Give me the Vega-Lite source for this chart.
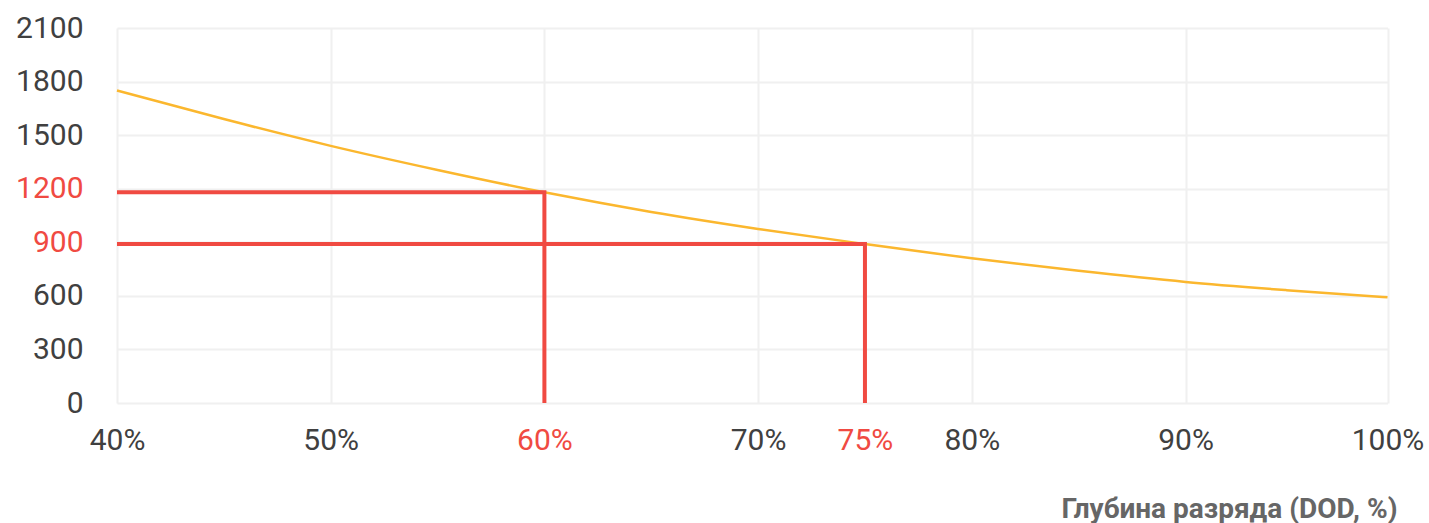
{
  "$schema": "https://vega.github.io/schema/vega-lite/v6.json",
  "autosize": {"type": "none"},
  "width": 1271,
  "height": 375,
  "padding": {"left": 117, "top": 28, "right": 41, "bottom": 120},
  "background": "#ffffff",
  "config": {
    "view": {"stroke": null},
    "font": "Roboto",
    "axis": {
      "grid": true,
      "gridColor": "#f0f0f0",
      "gridWidth": 2,
      "domain": false,
      "ticks": false,
      "tickSize": 0,
      "labelFont": "Roboto",
      "labelFontSize": 30,
      "labelColor": "#404040",
      "labelFlush": false,
      "labelBound": false,
      "labelOverlap": false
    }
  },
  "datasets": {
    "curve": [
      {"dod": 40, "cycles": 1750},
      {"dod": 45, "cycles": 1590},
      {"dod": 50, "cycles": 1440},
      {"dod": 55, "cycles": 1305},
      {"dod": 60, "cycles": 1180},
      {"dod": 65, "cycles": 1070},
      {"dod": 70, "cycles": 975},
      {"dod": 75, "cycles": 890},
      {"dod": 80, "cycles": 810},
      {"dod": 85, "cycles": 740},
      {"dod": 90, "cycles": 678},
      {"dod": 95, "cycles": 632},
      {"dod": 100, "cycles": 592}
    ],
    "marks": [
      {"path": "a", "step": 1, "dod": 40, "cycles": 1180},
      {"path": "a", "step": 2, "dod": 60, "cycles": 1180},
      {"path": "a", "step": 3, "dod": 60, "cycles": 0},
      {"path": "b", "step": 1, "dod": 40, "cycles": 890},
      {"path": "b", "step": 2, "dod": 75, "cycles": 890},
      {"path": "b", "step": 3, "dod": 75, "cycles": 0}
    ]
  },
  "layer": [
    {
      "data": {"name": "curve"},
      "mark": {"type": "line", "color": "#fbb72e", "strokeWidth": 2.5, "interpolate": "monotone"},
      "encoding": {
        "x": {
          "field": "dod",
          "type": "quantitative",
          "scale": {"domain": [40, 90, 100], "range": [0, 1068.5, 1270.5], "nice": false, "zero": false},
          "axis": {
            "values": [40, 50, 60, 70, 75, 80, 90, 100],
            "labelExpr": "datum.value + '%'",
            "labelPadding": 22,
            "labelColor": {"condition": {"test": "datum.value == 60 || datum.value == 75", "value": "#f04a42"}, "value": "#404040"},
            "gridOpacity": {"condition": {"test": "datum.value == 75", "value": 0}, "value": 1},
            "title": "Глубина разряда (DOD, %)",
            "titleFont": "Roboto",
            "titleFontSize": 28,
            "titleFontWeight": "bold",
            "titleColor": "#666666",
            "titleAnchor": "end",
            "titleAlign": "right",
            "titleBaseline": "alphabetic",
            "titleX": 1280,
            "titleY": 114
          }
        },
        "y": {
          "field": "cycles",
          "type": "quantitative",
          "scale": {"domain": [0, 2100], "nice": false},
          "axis": {
            "values": [0, 300, 600, 900, 1200, 1500, 1800, 2100],
            "format": "d",
            "labelPadding": 34,
            "labelColor": {"condition": {"test": "datum.value == 900 || datum.value == 1200", "value": "#f04a42"}, "value": "#404040"},
            "title": null
          }
        }
      }
    },
    {
      "data": {"name": "marks"},
      "mark": {"type": "line", "color": "#f04a42", "strokeWidth": 4, "strokeJoin": "miter"},
      "encoding": {
        "x": {"field": "dod", "type": "quantitative"},
        "y": {"field": "cycles", "type": "quantitative"},
        "detail": {"field": "path"},
        "order": {"field": "step"}
      }
    }
  ]
}
